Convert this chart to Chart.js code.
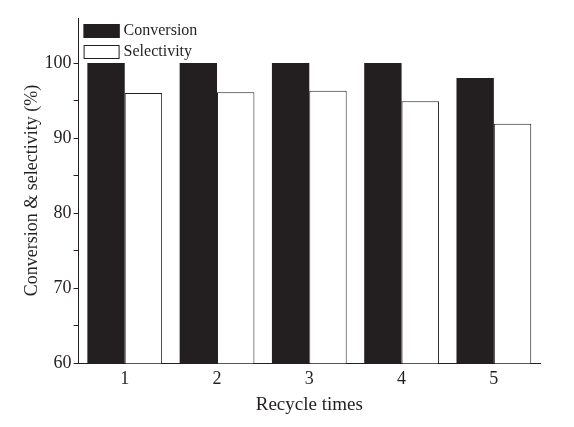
<!DOCTYPE html>
<html>
<head>
<meta charset="utf-8">
<script src="https://cdn.jsdelivr.net/npm/chart.js@4"></script>
<style>
html,body{margin:0;padding:0;background:#fff;}
#wrap{width:574px;height:427px;}
</style>
</head>
<body>
<div id="wrap"><canvas id="chart" width="574" height="427"></canvas></div>
<script>
const labels = ["1", "2", "3", "4", "5"];
const conversion = [100, 100, 100, 100, 98];
const selectivity = [96.0, 96.1, 96.3, 94.9, 91.9];
const seriesNames = ["Conversion", "Selectivity"];

const ink = "#231f20";
const serif = "'Liberation Serif', 'Times New Roman', serif";

// legend drawn inside the plot, stacked
const boxLegend = {
    id: "boxLegend",
    afterDraw(chart){
        const ctx = chart.ctx;
        const a = chart.chartArea;
        const x = a.left + 5;
        let y = a.top + 6;
        ctx.save();
        ctx.font = "16px " + serif;
        ctx.textBaseline = "middle";
        chart.data.datasets.forEach(ds => {
            ctx.fillStyle = ds.backgroundColor;
            ctx.fillRect(x, y, 36, 14);
            ctx.strokeStyle = ink;
            ctx.lineWidth = 1;
            ctx.strokeRect(x + 0.5, y + 0.5, 35, 13);
            ctx.fillStyle = ink;
            ctx.fillText(ds.label, x + 40, y + 7);
            y += 21;
        });
        ctx.restore();
    }
};

new Chart(document.getElementById("chart"), {
    type: "bar",
    data: {
        labels: labels,
        datasets: [{
            label: seriesNames[0],
            data: conversion,
            backgroundColor: ink,
            borderColor: ink,
            borderWidth: 0
        },{
            label: seriesNames[1],
            data: selectivity,
            backgroundColor: "#ffffff",
            borderColor: ink,
            borderWidth: 1
        }]
    },
    options: {
        responsive: false,
        animation: false,
        layout: { padding: { top: 18, right: 34, bottom: 12, left: 21 } },
        datasets: {
            bar: { categoryPercentage: 0.81, barPercentage: 1 }
        },
        plugins: {
            legend: { display: false },
            tooltip: { enabled: false }
        },
        scales: {
            x: {
                grid: { display: false, drawTicks: false },
                border: { color: ink, width: 1 },
                ticks: { color: ink, font: { family: serif, size: 18, lineHeight: 0.6 }, padding: 11 },
                title: {
                    display: true, text: "Recycle times", color: ink,
                    font: { family: serif, size: 19, lineHeight: 1 }, padding: { top: 0, bottom: 0 }
                }
            },
            y: {
                min: 60,
                max: 106,
                afterBuildTicks: s => { s.ticks = s.ticks.filter(t => t.value % 5 === 0); },
                grid: { drawOnChartArea: false, tickLength: 5, color: ink },
                border: { color: ink, width: 1 },
                ticks: {
                    stepSize: 5,
                    color: ink,
                    font: { family: serif, size: 18 },
                    padding: 2,
                    callback: v => (v % 10 === 0 ? v : "")
                },
                title: {
                    display: true, text: "Conversion & selectivity (%)", color: ink,
                    font: { family: serif, size: 18 }, padding: { top: 0, bottom: 0 }
                }
            }
        }
    },
    plugins: [boxLegend]
});
</script>
</body>
</html>
